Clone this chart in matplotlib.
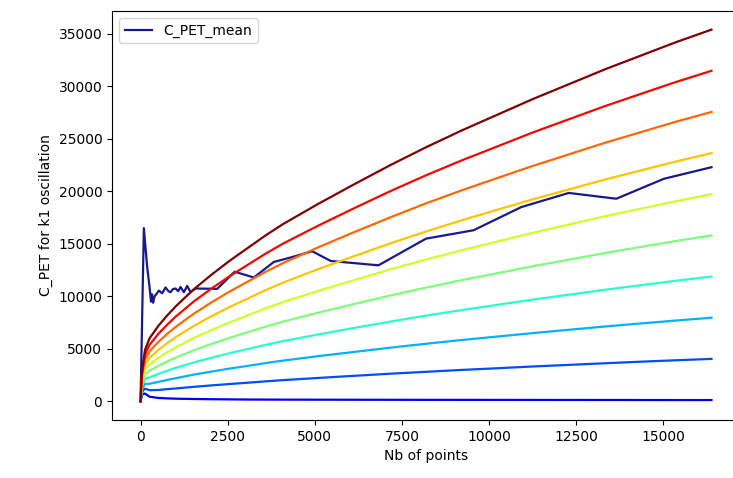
import numpy as np
import matplotlib
matplotlib.use("Agg")
import matplotlib.pyplot as plt

# x positions (Nb of points) at which the k curves were read
x_pts = [0, 32, 64, 128, 256, 512, 768, 1024, 1536, 2048, 2560, 3072, 3584, 4096,
         5120, 6144, 7168, 8192, 9216, 10240, 11264, 12288, 13312, 14336, 15360, 16384]

# one curve per k, bottom (k=0) to top (k=9)
k0 = [0, 500, 700, 750, 450, 330, 290, 260, 230, 210, 195, 180, 175, 170, 165, 160, 155, 150, 148, 145, 142, 140, 138, 135, 132, 130]
k1 = [0, 730, 1010, 1210, 1070, 1090, 1170, 1240, 1390, 1530, 1660, 1780, 1910, 2030, 2240, 2440, 2640, 2820, 3000, 3160, 3330, 3480, 3630, 3780, 3920, 4050]
k2 = [0, 970, 1320, 1670, 1680, 1860, 2050, 2220, 2560, 2850, 3130, 3380, 3650, 3890, 4320, 4720, 5120, 5490, 5850, 6180, 6510, 6820, 7130, 7420, 7700, 7970]
k3 = [0, 1200, 1630, 2130, 2300, 2620, 2930, 3210, 3720, 4170, 4600, 4990, 5380, 5750, 6390, 7010, 7600, 8170, 8700, 9200, 9700, 10160, 10630, 11060, 11490, 11890]
k4 = [0, 1430, 1940, 2590, 2920, 3380, 3810, 4190, 4880, 5490, 6060, 6590, 7120, 7610, 8470, 9290, 10090, 10840, 11550, 12210, 12880, 13500, 14120, 14700, 15270, 15810]
k5 = [0, 1670, 2260, 3060, 3530, 4150, 4680, 5170, 6050, 6820, 7530, 8190, 8860, 9460, 10550, 11570, 12570, 13510, 14400, 15230, 16060, 16840, 17620, 18340, 19060, 19730]
k6 = [0, 1900, 2570, 3520, 4150, 4910, 5560, 6150, 7210, 8140, 9000, 9790, 10590, 11320, 12620, 13850, 15050, 16180, 17250, 18250, 19250, 20180, 21110, 21980, 22840, 23640]
k7 = [0, 2130, 2880, 3980, 4770, 5670, 6440, 7140, 8370, 9460, 10470, 11400, 12330, 13180, 14700, 16140, 17530, 18860, 20100, 21270, 22430, 23520, 24610, 25620, 26630, 27560]
k8 = [0, 2370, 3190, 4440, 5380, 6440, 7320, 8120, 9540, 10780, 11930, 13000, 14060, 15040, 16770, 18420, 20020, 21530, 22950, 24280, 25620, 26860, 28100, 29260, 30410, 31480]
k9 = [0, 2600, 3500, 4900, 6000, 7200, 8200, 9100, 10700, 12100, 13400, 14600, 15800, 16900, 18850, 20700, 22500, 24200, 25800, 27300, 28800, 30200, 31600, 32900, 34200, 35400]
curves = [k0, k1, k2, k3, k4, k5, k6, k7, k8, k9]

# mean C_PET
mean_x = [0, 95, 190, 258, 300, 330, 360, 400, 450, 526, 620, 717, 800, 860, 930,
          1004, 1080, 1147, 1243, 1338, 1434, 1577, 2200, 2700, 3250, 3825, 4302,
          4924, 5461, 6827, 8192, 9557, 10923, 12288, 13653, 15019, 16384]
mean_y = [0, 16500, 12800, 10900, 9500, 10200, 9400, 10000, 10200, 10550, 10300, 10850,
          10500, 10400, 10700, 10750, 10500, 10900, 10400, 11000, 10400, 10750, 10720,
          12350, 11800, 13280, 13700, 14300, 13370, 12960, 15500, 16300, 18500, 19850,
          19300, 21200, 22300]

fig = plt.figure(figsize=(7.33, 4.78), dpi=100)
# axes run a little past the right edge, as in the cropped original
ax = fig.add_axes([0.1528, 0.1213, 0.8568, 0.8556])

ax.plot(mean_x, mean_y, color='navy', alpha=0.9, lw=1.6, label='C_PET_mean')

cols = plt.cm.jet(np.linspace(0.1, 1, len(curves)))
for c, col in zip(curves, cols):
    ax.plot(x_pts, c, color=col, lw=1.6)

ax.spines['right'].set_visible(False)
ax.set_xlabel('Nb of points')
ax.set_ylabel('C_PET for k1 oscillation')
ax.legend(loc='upper left')

plt.savefig('out.png', dpi=100)
